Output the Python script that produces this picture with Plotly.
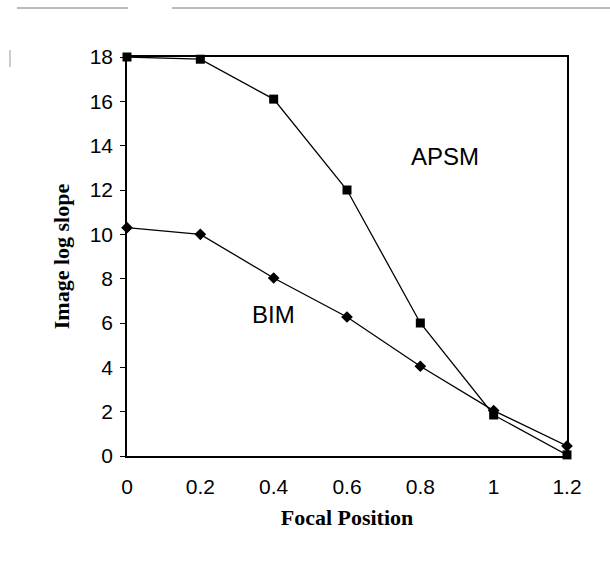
import plotly.graph_objects as go

focal = [0, 0.2, 0.4, 0.6, 0.8, 1.0, 1.2]
apsm = [18.0, 17.9, 16.1, 12.0, 6.0, 1.85, 0.05]
bim = [10.3, 10.0, 8.03, 6.27, 4.05, 2.05, 0.45]
x_ticks = [0, 0.2, 0.4, 0.6, 0.8, 1, 1.2]
x_tick_text = ["0", "0.2", "0.4", "0.6", "0.8", "1", "1.2"]
y_ticks = [0, 2, 4, 6, 8, 10, 12, 14, 16, 18]

fig = go.Figure()
fig.add_trace(go.Scatter(x=focal, y=apsm, mode="lines+markers", name="APSM",
                         line=dict(color="black", width=1.3),
                         marker=dict(symbol="square", size=9, color="black"),
                         cliponaxis=False))
fig.add_trace(go.Scatter(x=focal, y=bim, mode="lines+markers", name="BIM",
                         line=dict(color="black", width=1.3),
                         marker=dict(symbol="diamond", size=9, color="black"),
                         cliponaxis=False))

fig.add_annotation(x=0.867, y=13.5, text="APSM", showarrow=False,
                   font=dict(family="Liberation Sans, Arial", size=24, color="black"))
fig.add_annotation(x=0.40, y=6.4, text="BIM", showarrow=False,
                   font=dict(family="Liberation Sans, Arial", size=24, color="black"))

# scan artifacts: top rule and left mark
for x0, x1 in [(17, 128), (172, 610)]:
    fig.add_shape(type="line", xref="paper", yref="paper",
                  x0=(x0 - 127) / 440, x1=(x1 - 127) / 440,
                  y0=(456 - 8) / 399, y1=(456 - 8) / 399,
                  line=dict(color="#777777", width=1))
fig.add_shape(type="line", xref="paper", yref="paper",
              x0=(10 - 127) / 440, x1=(10 - 127) / 440,
              y0=(456 - 50) / 399, y1=(456 - 67) / 399,
              line=dict(color="#999999", width=1))

fig.update_layout(
    width=610, height=576,
    margin=dict(l=127, r=43, t=57, b=120),
    paper_bgcolor="white", plot_bgcolor="white",
    showlegend=False,
    font=dict(family="Liberation Sans, Arial", size=21, color="black"),
    xaxis=dict(range=[0, 1.2], tickvals=x_ticks, ticktext=x_tick_text,
               showgrid=False, zeroline=False, showline=True, linecolor="black",
               linewidth=1.5, mirror=True, ticks="", ticklabelstandoff=11,
               tickfont=dict(size=21),
               title=dict(text="<b>Focal Position</b>", standoff=13,
                          font=dict(family="Liberation Serif, Times New Roman", size=22))),
    yaxis=dict(range=[0, 18], tickvals=y_ticks,
               showgrid=False, zeroline=False, showline=True, linecolor="black",
               linewidth=1.5, mirror=True, ticks="outside", ticklen=5, tickcolor="black",
               ticklabelstandoff=3, tickfont=dict(size=21),
               title=dict(text="<b>Image log slope</b>", standoff=14,
                          font=dict(family="Liberation Serif, Times New Roman", size=22))),
    yaxis2=dict(range=[0, 18], tickvals=y_ticks, overlaying="y", side="left",
                showgrid=False, zeroline=False, showline=False,
                ticks="inside", ticklen=4, tickcolor="black", showticklabels=False),
)
fig.write_html("out.html")
